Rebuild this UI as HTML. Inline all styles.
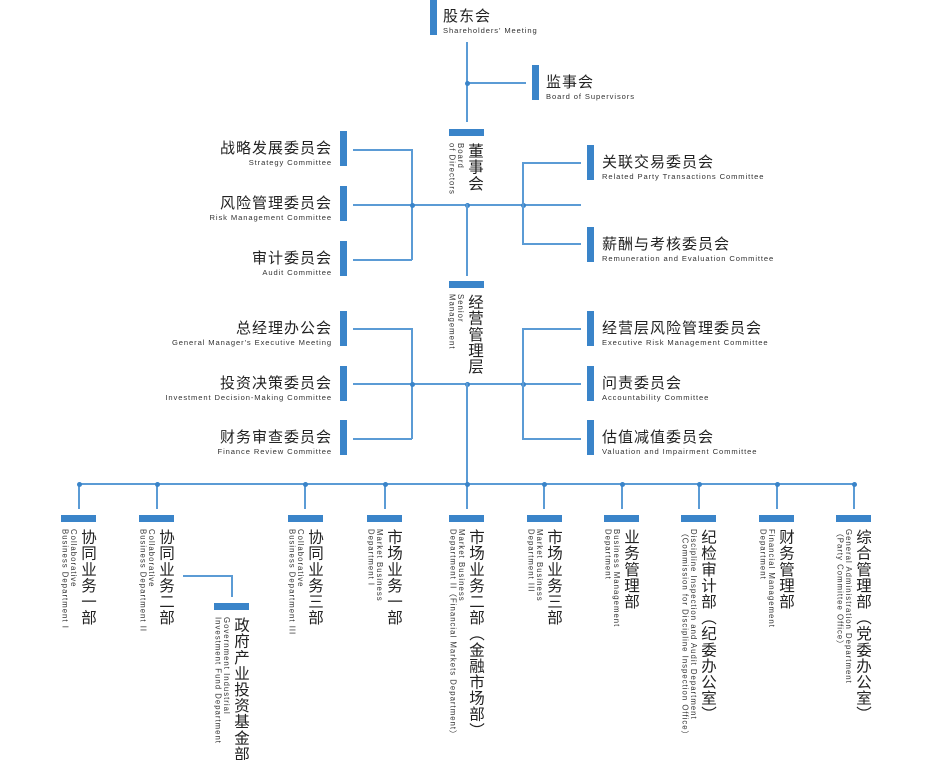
<!DOCTYPE html>
<html><head><meta charset="utf-8">
<style>
body{margin:0;background:#fff;}
#c{position:relative;width:930px;height:760px;overflow:hidden;font-family:"Liberation Sans","Noto Sans CJK SC",sans-serif;color:#222;}
.l{position:absolute;background:#5b9bd5;}
.h{height:1.5px;}
.v{width:1.5px;}
.d{position:absolute;width:5px;height:5px;border-radius:50%;background:#3a84c9;margin:-2px 0 0 -2px;}
.bv{position:absolute;width:7px;height:35px;background:#3a84c9;}
.bh{position:absolute;width:35px;height:7px;background:#3a84c9;}
.t{position:absolute;white-space:nowrap;}
.t .zh{font-size:15px;line-height:18px;letter-spacing:1px;}
.t .en{font-size:7.6px;line-height:9px;letter-spacing:0.9px;color:#333;}
.r{text-align:right;}
.vt{position:absolute;writing-mode:vertical-rl;white-space:nowrap;}
.vt div{display:block;}
.vt .zh{font-size:15.5px;line-height:17px;letter-spacing:0.6px;}
.vt .en{font-size:7.8px;line-height:8.5px;letter-spacing:1px;color:#333;margin-right:2px;}
</style></head><body><div id="c">
<div class="bv" style="left:430px;top:0;"></div>
<div class="t" style="left:443px;top:8px;"><div class="zh">股东会</div><div class="en">Shareholders' Meeting</div></div>
<div class="l v" style="left:466px;top:42px;height:80px;"></div>
<div class="l h" style="left:466px;top:82px;width:60px;"></div>
<div class="d" style="left:467px;top:83px;"></div>
<div class="bv" style="left:532px;top:65px;"></div>
<div class="t" style="left:546px;top:74px;"><div class="zh">监事会</div><div class="en">Board of Supervisors</div></div>

<div class="bh" style="left:449px;top:129px;"></div>
<div class="vt" style="right:447px;top:143px;"><div class="zh">董事会</div><div class="en">Board<br>of Directors</div></div>
<div class="bv" style="left:340px;top:131px;"></div>
<div class="bv" style="left:340px;top:186px;"></div>
<div class="bv" style="left:340px;top:241px;"></div>
<div class="t r" style="right:598px;top:140px;"><div class="zh">战略发展委员会</div><div class="en">Strategy Committee</div></div>
<div class="t r" style="right:598px;top:195px;"><div class="zh">风险管理委员会</div><div class="en">Risk Management Committee</div></div>
<div class="t r" style="right:598px;top:250px;"><div class="zh">审计委员会</div><div class="en">Audit Committee</div></div>
<div class="l h" style="left:353px;top:149px;width:59px;"></div>
<div class="l h" style="left:353px;top:204px;width:228px;"></div>
<div class="l h" style="left:353px;top:259px;width:59px;"></div>
<div class="l v" style="left:411px;top:149px;height:111px;"></div>
<div class="d" style="left:412px;top:205px;"></div>
<div class="d" style="left:467px;top:205px;"></div>
<div class="d" style="left:523px;top:205px;"></div>
<div class="l v" style="left:466px;top:204px;height:72px;"></div>
<div class="l v" style="left:522px;top:162px;height:82px;"></div>
<div class="l h" style="left:522px;top:162px;width:59px;"></div>
<div class="l h" style="left:522px;top:243px;width:59px;"></div>
<div class="bv" style="left:587px;top:145px;"></div>
<div class="bv" style="left:587px;top:227px;"></div>
<div class="t" style="left:602px;top:154px;"><div class="zh">关联交易委员会</div><div class="en">Related Party Transactions Committee</div></div>
<div class="t" style="left:602px;top:236px;"><div class="zh">薪酬与考核委员会</div><div class="en">Remuneration and Evaluation Committee</div></div>

<div class="bh" style="left:449px;top:281px;"></div>
<div class="vt" style="right:447px;top:294px;"><div class="zh">经营管理层</div><div class="en">Senior<br>Management</div></div>
<div class="bv" style="left:340px;top:311px;"></div>
<div class="bv" style="left:340px;top:366px;"></div>
<div class="bv" style="left:340px;top:420px;"></div>
<div class="t r" style="right:598px;top:320px;"><div class="zh">总经理办公会</div><div class="en">General Manager's Executive Meeting</div></div>
<div class="t r" style="right:598px;top:375px;"><div class="zh">投资决策委员会</div><div class="en">Investment Decision-Making Committee</div></div>
<div class="t r" style="right:598px;top:429px;"><div class="zh">财务审查委员会</div><div class="en">Finance Review Committee</div></div>
<div class="l h" style="left:353px;top:328px;width:59px;"></div>
<div class="l h" style="left:353px;top:383px;width:228px;"></div>
<div class="l h" style="left:353px;top:438px;width:59px;"></div>
<div class="l v" style="left:411px;top:328px;height:111px;"></div>
<div class="d" style="left:412px;top:384px;"></div>
<div class="d" style="left:467px;top:384px;"></div>
<div class="d" style="left:523px;top:384px;"></div>
<div class="l v" style="left:466px;top:383px;height:101px;"></div>
<div class="l v" style="left:522px;top:328px;height:111px;"></div>
<div class="l h" style="left:522px;top:328px;width:59px;"></div>
<div class="l h" style="left:522px;top:438px;width:59px;"></div>
<div class="bv" style="left:587px;top:311px;"></div>
<div class="bv" style="left:587px;top:366px;"></div>
<div class="bv" style="left:587px;top:420px;"></div>
<div class="t" style="left:602px;top:320px;"><div class="zh">经营层风险管理委员会</div><div class="en">Executive Risk Management Committee</div></div>
<div class="t" style="left:602px;top:375px;"><div class="zh">问责委员会</div><div class="en">Accountability Committee</div></div>
<div class="t" style="left:602px;top:429px;"><div class="zh">估值减值委员会</div><div class="en">Valuation and Impairment Committee</div></div>

<div class="l h" style="left:78px;top:483px;width:776px;"></div>
<div class="l v" style="left:78px;top:483px;height:26px;"></div><div class="d" style="left:79px;top:484px;"></div>
<div class="l v" style="left:156px;top:483px;height:26px;"></div><div class="d" style="left:157px;top:484px;"></div>
<div class="l v" style="left:304px;top:483px;height:26px;"></div><div class="d" style="left:305px;top:484px;"></div>
<div class="l v" style="left:384px;top:483px;height:26px;"></div><div class="d" style="left:385px;top:484px;"></div>
<div class="l v" style="left:466px;top:483px;height:26px;"></div><div class="d" style="left:467px;top:484px;"></div>
<div class="l v" style="left:543px;top:483px;height:26px;"></div><div class="d" style="left:544px;top:484px;"></div>
<div class="l v" style="left:621px;top:483px;height:26px;"></div><div class="d" style="left:622px;top:484px;"></div>
<div class="l v" style="left:698px;top:483px;height:26px;"></div><div class="d" style="left:699px;top:484px;"></div>
<div class="l v" style="left:776px;top:483px;height:26px;"></div><div class="d" style="left:777px;top:484px;"></div>
<div class="l v" style="left:853px;top:483px;height:26px;"></div><div class="d" style="left:854px;top:484px;"></div>

<div class="bh" style="left:61px;top:515px;"></div>
<div class="vt" style="right:834px;top:529px;"><div class="zh">协同业务一部</div><div class="en">Collaborative<br>Business Department I</div></div>
<div class="bh" style="left:139px;top:515px;"></div>
<div class="vt" style="right:756px;top:529px;"><div class="zh">协同业务二部</div><div class="en">Collaborative<br>Business Department II</div></div>
<div class="l h" style="left:183px;top:575px;width:48px;"></div>
<div class="l v" style="left:231px;top:575px;height:22px;"></div>
<div class="bh" style="left:214px;top:603px;"></div>
<div class="vt" style="right:681px;top:617px;"><div class="zh">政府产业投资基金部</div><div class="en">Government Industrial<br>Investment Fund Department</div></div>
<div class="bh" style="left:288px;top:515px;"></div>
<div class="vt" style="right:607px;top:529px;"><div class="zh">协同业务三部</div><div class="en">Collaborative<br>Business Department III</div></div>
<div class="bh" style="left:367px;top:515px;"></div>
<div class="vt" style="right:528px;top:529px;"><div class="zh">市场业务一部</div><div class="en">Market Business<br>Department I</div></div>
<div class="bh" style="left:449px;top:515px;"></div>
<div class="vt" style="right:446px;top:529px;"><div class="zh">市场业务二部（金融市场部）</div><div class="en">Market Business<br>Department II（Financial Markets Department）</div></div>
<div class="bh" style="left:527px;top:515px;"></div>
<div class="vt" style="right:368px;top:529px;"><div class="zh">市场业务三部</div><div class="en">Market Business<br>Department III</div></div>
<div class="bh" style="left:604px;top:515px;"></div>
<div class="vt" style="right:291px;top:529px;"><div class="zh">业务管理部</div><div class="en">Business Management<br>Department</div></div>
<div class="bh" style="left:681px;top:515px;"></div>
<div class="vt" style="right:214px;top:529px;"><div class="zh">纪检审计部（纪委办公室）</div><div class="en">Discipline Inspection and Audit Department<br>（Commission for Discipline Inspection Office）</div></div>
<div class="bh" style="left:759px;top:515px;"></div>
<div class="vt" style="right:136px;top:529px;"><div class="zh">财务管理部</div><div class="en">Financial Management<br>Department</div></div>
<div class="bh" style="left:836px;top:515px;"></div>
<div class="vt" style="right:59px;top:529px;"><div class="zh">综合管理部（党委办公室）</div><div class="en">General Administration Department<br>（Party Committee Office）</div></div>
</div></body></html>
